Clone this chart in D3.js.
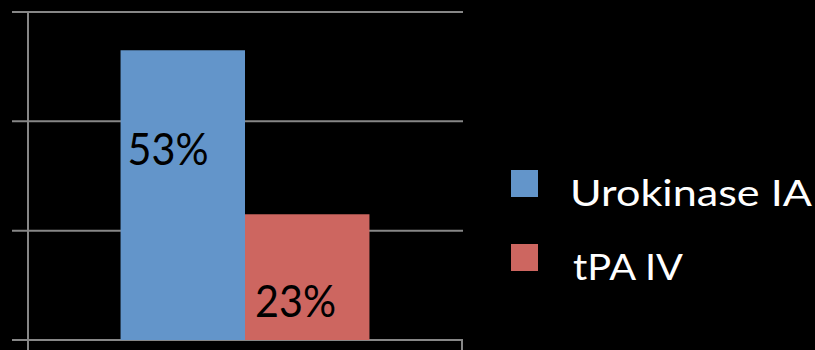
<!DOCTYPE html>
<html>
<head>
<meta charset="utf-8">
<script src="https://cdn.jsdelivr.net/npm/d3@7"></script>
<style>
  html, body { margin: 0; padding: 0; background: #000; }
  svg { display: block; }
</style>
</head>
<body>
<svg id="chart" width="815" height="350"></svg>
<script>
const categories = ["Outcome"];
const seriesNames = ["Urokinase IA", "tPA IV"];
const seriesValues = [53, 23];
const valueLabels = ["53%", "23%"];
const yTicks = [0, 20, 40, 60];
const colors = ["#6395CA", "#CD6660"];

const svg = d3.select("#chart");
const W = 815, H = 350;
svg.append("rect").attr("width", W).attr("height", H).attr("fill", "#000");

const plotLeft = 28, plotRight = 462, plotTop = 12, plotBottom = 340;
const y = d3.scaleLinear().domain([0, 60]).range([plotBottom, plotTop]);
const x0 = d3.scaleBand().domain(categories).range([plotLeft, plotRight])
  .paddingInner(0.4265).paddingOuter(0.21325);
const x1 = d3.scaleBand().domain(seriesNames).range([0, x0.bandwidth()]);

const grid = "#878787";
// gridlines + left tick marks
svg.append("g").selectAll("line").data(yTicks).join("line")
  .attr("x1", plotLeft - 16).attr("x2", plotRight + 1)
  .attr("y1", d => y(d)).attr("y2", d => y(d))
  .attr("stroke", grid).attr("stroke-width", 2);

// left axis line
svg.append("line")
  .attr("x1", plotLeft).attr("x2", plotLeft)
  .attr("y1", plotTop - 1).attr("y2", H)
  .attr("stroke", grid).attr("stroke-width", 2);
// right category boundary tick
svg.append("line")
  .attr("x1", plotRight).attr("x2", plotRight)
  .attr("y1", plotBottom).attr("y2", H)
  .attr("stroke", grid).attr("stroke-width", 2);

// bars
const data = seriesNames.map((s, i) => ({ s, v: seriesValues[i], label: valueLabels[i], c: colors[i] }));
const g = svg.append("g").attr("transform", `translate(${x0(categories[0])},0)`);
g.selectAll("rect").data(data).join("rect")
  .attr("x", d => x1(d.s))
  .attr("width", x1.bandwidth())
  .attr("y", d => y(d.v))
  .attr("height", d => y(0) - y(d.v))
  .attr("fill", d => d.c);

// value labels
const labelDx = [7, 10];
const labelDy = [115, 103];
g.selectAll("text").data(data).join("text")
  .attr("x", (d, i) => x1(d.s) + labelDx[i])
  .attr("y", (d, i) => y(d.v) + labelDy[i])
  .attr("font-family", "Lato, 'Open Sans', sans-serif")
  .attr("font-size", 44)
  .attr("fill", "#000")
  .attr("textLength", 81)
  .attr("lengthAdjust", "spacingAndGlyphs")
  .text(d => d.label);

// legend
const legendY = [170, 244];
const leg = svg.append("g");
leg.selectAll("rect").data(data).join("rect")
  .attr("x", 511).attr("y", (d, i) => legendY[i])
  .attr("width", 27).attr("height", 27)
  .attr("fill", d => d.c);
const legLens = [242, 110];
const legX = [570, 573];
leg.selectAll("text").data(data).join("text")
  .attr("x", (d, i) => legX[i])
  .attr("y", (d, i) => legendY[i] + 36)
  .attr("font-family", "Lato, 'Open Sans', sans-serif")
  .attr("font-size", 37)
  .attr("fill", "#fff")
  .attr("textLength", (d, i) => legLens[i])
  .attr("lengthAdjust", "spacingAndGlyphs")
  .text(d => d.s);
</script>
</body>
</html>
